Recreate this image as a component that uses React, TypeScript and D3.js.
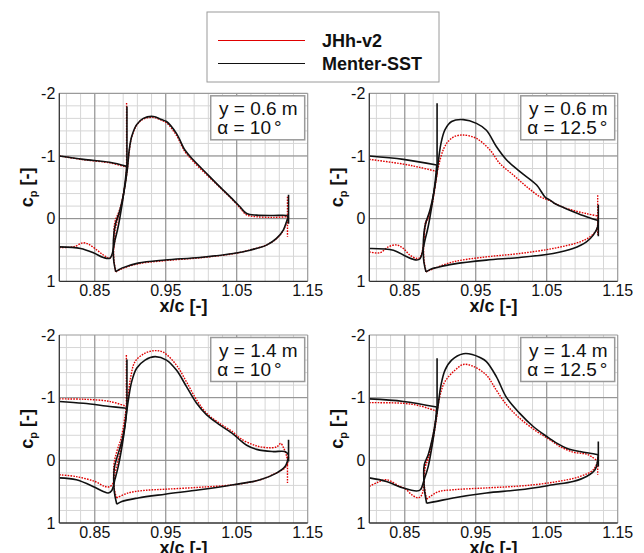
import React from "react";
import * as d3 from "d3";

type Pt = [number, number];
type Series = Pt[][];

// ---- axis ticks ----
const xTicks = [0.85, 0.95, 1.05, 1.15];
const yTicks = [-2, -1, 0, 1];
const xDomain: [number, number] = [0.8, 1.15];
const yDomain: [number, number] = [-2, 1];

// ---- panel annotations ----
const panelSpan = ["0.6", "0.6", "1.4", "1.4"];
const panelAlpha = ["10", "12.5", "10", "12.5"];

// ---- legend ----
const seriesNames = ["JHh-v2", "Menter-SST"];

// ---- Panel 1: y = 0.6 m, alpha = 10 ----
const p1Sst: Series = [
  [[0.80, -1.0], [0.834, -0.946], [0.871, -0.9], [0.895, -0.834]],
  [[0.80, 0.45], [0.83, 0.476], [0.848, 0.545], [0.862, 0.62], [0.8715, 0.63], [0.8785, 0.34], [0.883, 0.125], [0.888, -0.195], [0.8926, -0.567], [0.895, -0.834]],
  [[0.8953, -1.79], [0.8953, -0.83]],
  [[0.8795, 0.845], [0.877, 0.7], [0.876, 0.5], [0.877, 0.23], [0.8795, 0.07], [0.8855, -0.14], [0.8916, -0.46], [0.8958, -0.78], [0.8986, -1.1], [0.902, -1.31], [0.909, -1.5], [0.9184, -1.6], [0.9325, -1.63], [0.944, -1.58], [0.951, -1.55], [0.965, -1.36], [0.977, -1.095], [0.989, -0.935], [1.0076, -0.72], [1.026, -0.51], [1.045, -0.3], [1.0546, -0.19], [1.064, -0.083], [1.078, -0.056], [1.1016, -0.05], [1.12, -0.05], [1.123, -0.03]],
  [[0.8795, 0.845], [0.888, 0.79], [0.911, 0.71], [0.949, 0.66], [0.998, 0.62], [1.045, 0.556], [1.0687, 0.503], [1.092, 0.423], [1.106, 0.316], [1.1156, 0.183], [1.121, 0.023], [1.123, -0.03]],
  [[1.123, -0.38], [1.123, 0.08]],
];
const p1Jhh: Series = [
  [[0.80, -1.0], [0.834, -0.94], [0.871, -0.89], [0.895, -0.82]],
  [[0.80, 0.46], [0.82, 0.45], [0.834, 0.385], [0.843, 0.42], [0.853, 0.5], [0.862, 0.58], [0.8715, 0.63], [0.8775, 0.42], [0.8785, 0.2], [0.882, 0.02], [0.887, -0.17], [0.8926, -0.55], [0.895, -0.82]],
  [[0.8948, -1.845], [0.8948, -0.82]],
  [[0.8795, 0.85], [0.877, 0.66], [0.8765, 0.45], [0.877, 0.2], [0.8785, 0.05], [0.8855, -0.16], [0.8916, -0.47], [0.8958, -0.78], [0.8986, -1.08], [0.902, -1.3], [0.909, -1.49], [0.9184, -1.59], [0.9325, -1.615], [0.944, -1.57], [0.951, -1.53], [0.965, -1.33], [0.977, -1.07], [0.989, -0.91], [1.0076, -0.7], [1.026, -0.5], [1.045, -0.29], [1.0546, -0.17], [1.064, -0.06], [1.078, -0.03], [1.1016, -0.02], [1.12, -0.03]],
  [[0.8795, 0.85], [0.888, 0.8], [0.911, 0.72], [0.949, 0.67], [0.998, 0.625], [1.045, 0.56], [1.0687, 0.5], [1.092, 0.42], [1.106, 0.32], [1.1156, 0.19], [1.121, 0.03]],
  [[1.1215, -0.35], [1.1215, 0.29]],
];

// ---- Panel 2: y = 0.6 m, alpha = 12.5 ----
const p2Sst: Series = [
  [[0.80, -1.0], [0.848, -0.946], [0.895, -0.855]],
  [[0.80, 0.476], [0.834, 0.503], [0.853, 0.61], [0.8668, 0.66], [0.8715, 0.64], [0.8785, 0.34], [0.883, 0.125], [0.888, -0.195], [0.8926, -0.567], [0.895, -0.855]],
  [[0.8955, -1.84], [0.8955, -0.85]],
  [[0.8799, 0.85], [0.877, 0.7], [0.876, 0.5], [0.877, 0.23], [0.8795, 0.07], [0.8855, -0.14], [0.8916, -0.46], [0.8958, -0.78], [0.901, -1.2], [0.9067, -1.42], [0.916, -1.55], [0.9325, -1.58], [0.951, -1.52], [0.965, -1.41], [0.979, -1.15], [0.9935, -0.935], [1.0123, -0.75], [1.0358, -0.536], [1.048, -0.34], [1.054, -0.3], [1.06, -0.25], [1.0687, -0.2], [1.0875, -0.11], [1.106, -0.03], [1.1227, 0.03]],
  [[0.8799, 0.85], [0.888, 0.8], [0.895, 0.78], [0.918, 0.726], [0.965, 0.662], [1.012, 0.62], [1.059, 0.556], [1.087, 0.476], [1.106, 0.37], [1.1156, 0.263], [1.1218, 0.13], [1.1227, 0.03]],
  [[1.1227, -0.22], [1.1227, 0.28]],
];
const p2Jhh: Series = [
  [[0.80, -0.946], [0.848, -0.87], [0.871, -0.818], [0.896, -0.75]],
  [[0.80, 0.53], [0.815, 0.545], [0.8268, 0.45], [0.8385, 0.42], [0.848, 0.476], [0.857, 0.58], [0.867, 0.636], [0.8715, 0.62], [0.8765, 0.4], [0.8785, 0.15], [0.8825, -0.02], [0.888, -0.2], [0.8926, -0.5], [0.896, -0.75]],
  [[0.8799, 0.85], [0.877, 0.65], [0.8765, 0.45], [0.8775, 0.23], [0.8795, 0.05], [0.883, -0.01], [0.889, -0.3], [0.895, -0.7], [0.9, -0.95], [0.905, -1.12], [0.911, -1.23], [0.92, -1.31], [0.9325, -1.334], [0.951, -1.28], [0.97, -1.095], [0.984, -0.88], [1.003, -0.695], [1.0217, -0.51], [1.0405, -0.35], [1.0546, -0.285], [1.0687, -0.2], [1.0875, -0.13], [1.106, -0.08], [1.1227, -0.04]],
  [[0.8799, 0.85], [0.8855, 0.822], [0.918, 0.69], [0.965, 0.61], [1.012, 0.556], [1.059, 0.476], [1.097, 0.37], [1.111, 0.29], [1.12, 0.18], [1.1227, -0.04]],
  [[1.1218, -0.375], [1.1218, 0.26]],
];

// ---- Panel 3: y = 1.4 m, alpha = 10 ----
const p3Sst: Series = [
  [[0.80, -0.94], [0.834, -0.91], [0.871, -0.86], [0.895, -0.83]],
  [[0.80, 0.28], [0.824, 0.31], [0.85, 0.43], [0.862, 0.496], [0.869, 0.52], [0.874, 0.48], [0.8785, 0.3], [0.883, 0.1], [0.888, -0.2], [0.8926, -0.55], [0.895, -0.83]],
  [[0.8953, -1.61], [0.8953, -0.83]],
  [[0.881, 0.7], [0.8775, 0.5], [0.8775, 0.125], [0.881, -0.035], [0.888, -0.3], [0.8926, -0.566], [0.897, -0.94], [0.902, -1.256], [0.909, -1.47], [0.9208, -1.6], [0.9349, -1.655], [0.951, -1.6], [0.965, -1.44], [0.979, -1.18], [0.9935, -0.91], [1.0076, -0.725], [1.026, -0.566], [1.045, -0.42], [1.055, -0.32], [1.064, -0.24], [1.078, -0.175], [1.1, -0.14], [1.118, -0.14], [1.123, -0.09]],
  [[0.881, 0.7], [0.888, 0.656], [0.911, 0.6], [0.949, 0.54], [0.998, 0.47], [1.045, 0.39], [1.083, 0.31], [1.106, 0.204], [1.118, 0.1], [1.123, -0.05]],
  [[1.123, -0.33], [1.123, 0.02]],
];
const p3Jhh: Series = [
  [[0.80, -0.98], [0.834, -0.975], [0.871, -0.94], [0.895, -0.86]],
  [[0.80, 0.23], [0.824, 0.26], [0.85, 0.337], [0.864, 0.416], [0.871, 0.42], [0.876, 0.36], [0.8785, 0.2], [0.883, 0.0], [0.888, -0.25], [0.8926, -0.6], [0.895, -0.86]],
  [[0.8945, -1.68], [0.8945, -0.86]],
  [[0.8805, 0.6], [0.8775, 0.45], [0.877, 0.07], [0.881, -0.14], [0.887, -0.35], [0.8926, -0.7], [0.897, -1.05], [0.901, -1.35], [0.9067, -1.575], [0.9208, -1.71], [0.9349, -1.75], [0.9465, -1.725], [0.965, -1.52], [0.979, -1.256], [0.9935, -0.964], [1.0076, -0.75], [1.026, -0.59], [1.045, -0.45], [1.055, -0.35], [1.078, -0.23], [1.1, -0.2], [1.107, -0.22], [1.112, -0.27], [1.116, -0.2], [1.12, -0.08], [1.1227, 0.04]],
  [[0.8805, 0.6], [0.8973, 0.52], [0.92, 0.48], [0.951, 0.46], [0.998, 0.43], [1.045, 0.39], [1.083, 0.31], [1.106, 0.2], [1.118, 0.12], [1.1227, 0.04]],
  [[1.1215, -0.06], [1.1215, 0.36]],
];

// ---- Panel 4: y = 1.4 m, alpha = 12.5 ----
const p4Sst: Series = [
  [[0.80, -0.98], [0.848, -0.94], [0.895, -0.85]],
  [[0.80, 0.28], [0.824, 0.337], [0.848, 0.443], [0.8668, 0.49], [0.872, 0.47], [0.8775, 0.3], [0.883, 0.1], [0.888, -0.2], [0.8926, -0.55], [0.895, -0.85]],
  [[0.8955, -1.63], [0.8955, -0.85]],
  [[0.8808, 0.686], [0.8775, 0.44], [0.8775, 0.07], [0.883, -0.09], [0.89, -0.41], [0.8958, -0.78], [0.901, -1.2], [0.9067, -1.44], [0.916, -1.6], [0.9325, -1.7], [0.945, -1.69], [0.956, -1.64], [0.965, -1.575], [0.979, -1.336], [0.9935, -1.0], [1.012, -0.75], [1.031, -0.54], [1.05, -0.38], [1.064, -0.274], [1.078, -0.194], [1.097, -0.14], [1.1156, -0.104], [1.1227, -0.088]],
  [[0.8808, 0.686], [0.895, 0.655], [0.918, 0.6], [0.965, 0.52], [1.012, 0.47], [1.059, 0.39], [1.087, 0.337], [1.106, 0.257], [1.118, 0.15], [1.1227, -0.088]],
  [[1.1227, -0.3], [1.1227, 0.1]],
];
const p4Jhh: Series = [
  [[0.80, -0.92], [0.848, -0.91], [0.871, -0.87], [0.896, -0.78]],
  [[0.80, 0.416], [0.812, 0.35], [0.824, 0.31], [0.843, 0.416], [0.8503, 0.45], [0.86, 0.55], [0.869, 0.6], [0.874, 0.55], [0.877, 0.35], [0.879, 0.1], [0.884, -0.05], [0.89, -0.35], [0.8945, -0.65], [0.896, -0.78]],
  [[0.8808, 0.62], [0.8775, 0.4], [0.8785, 0.077], [0.882, -0.02], [0.889, -0.35], [0.895, -0.75], [0.9, -1.05], [0.9067, -1.26], [0.921, -1.44], [0.9325, -1.53], [0.9465, -1.5], [0.965, -1.36], [0.979, -1.12], [0.9935, -0.885], [1.012, -0.67], [1.036, -0.46], [1.0546, -0.327], [1.0687, -0.22], [1.0875, -0.13], [1.1, -0.11], [1.106, -0.1], [1.113, -0.06], [1.1227, 0.02]],
  [[0.8808, 0.62], [0.8855, 0.58], [0.8973, 0.5], [0.918, 0.47], [0.965, 0.44], [1.012, 0.41], [1.059, 0.35], [1.097, 0.257], [1.1156, 0.15], [1.1218, 0.02]],
  [[1.1218, -0.05], [1.1218, 0.23]],
];

const sstSets = [p1Sst, p2Sst, p3Sst, p4Sst];
const jhhSets = [p1Jhh, p2Jhh, p3Jhh, p4Jhh];

// ---- layout ----
const W = 644;
const H = 553;
const PW = 248.4;
const PH = 188;
const origins: [number, number][] = [
  [59.3, 93.3],
  [369.3, 93.3],
  [59.3, 335],
  [369.3, 335],
];
const FONT = "'Liberation Sans', Arial, Helvetica, sans-serif";
const RED = "#e00000";

function Panel({ idx }: { idx: number }) {
  const [ox, oy] = origins[idx];
  const x = d3.scaleLinear().domain(xDomain).range([0, PW]);
  const y = d3.scaleLinear().domain(yDomain).range([0, PH]);
  const line = d3
    .line<Pt>()
    .x((d) => x(d[0]))
    .y((d) => y(d[1]))
    .curve(d3.curveCatmullRom.alpha(0.5));
  const xMinor = d3.range(0, 17).map((i) => 0.81 + i * 0.02);
  const yMinor = d3.range(1, 15).map((i) => -2 + i * 0.2);
  const clipId = `clip-${idx}`;
  const boxW = 94;
  const boxH = 44;
  const bx = PW - 3 - boxW;
  const by = 2.5;
  return (
    <g transform={`translate(${ox},${oy})`}>
      <defs>
        <clipPath id={clipId}>
          <rect x={0} y={0} width={PW} height={PH} />
        </clipPath>
      </defs>
      <rect x={0} y={0} width={PW} height={PH} fill="#fff" />
      {xMinor.map((v, i) => (
        <line key={"xm" + i} x1={x(v)} x2={x(v)} y1={0} y2={PH} stroke="#d6d6d6" strokeWidth={1} />
      ))}
      {yMinor.map((v, i) => (
        <line key={"ym" + i} x1={0} x2={PW} y1={y(v)} y2={y(v)} stroke="#d6d6d6" strokeWidth={1} />
      ))}
      {xTicks.slice(0, 3).map((v, i) => (
        <line key={"xM" + i} x1={x(v)} x2={x(v)} y1={0} y2={PH} stroke="#8a8a8a" strokeWidth={1} />
      ))}
      {yTicks.slice(1, 3).map((v, i) => (
        <line key={"yM" + i} x1={0} x2={PW} y1={y(v)} y2={y(v)} stroke="#8a8a8a" strokeWidth={1} />
      ))}
      <g clipPath={`url(#${clipId})`}>
        {jhhSets[idx].map((seg, i) => (
          <path key={"r" + i} d={line(seg) || ""} fill="none" stroke={RED} strokeWidth={1.4} strokeDasharray="1.6 1.2" />
        ))}
        {sstSets[idx].map((seg, i) => (
          <path key={"k" + i} d={line(seg) || ""} fill="none" stroke="#111" strokeWidth={1.6} />
        ))}
      </g>
      {/* frame */}
      <line x1={0} x2={PW} y1={0} y2={0} stroke="#9a9a9a" strokeWidth={1.2} />
      <line x1={PW} x2={PW} y1={0} y2={PH} stroke="#9a9a9a" strokeWidth={1.2} />
      <line x1={0} x2={0} y1={0} y2={PH} stroke="#333" strokeWidth={1.3} />
      <line x1={0} x2={PW} y1={PH} y2={PH} stroke="#333" strokeWidth={1.3} />
      {/* tick labels */}
      {yTicks.map((v) => (
        <text key={"yt" + v} x={-4} y={y(v)} dy="0.36em" textAnchor="end" fontFamily={FONT} fontSize={16} fill="#111">
          {String(v)}
        </text>
      ))}
      {xTicks.map((v) => (
        <text key={"xt" + v} x={x(v)} y={PH + 14.5} textAnchor="middle" fontFamily={FONT} fontSize={16} fill="#111">
          {v.toFixed(2)}
        </text>
      ))}
      {/* axis titles */}
      <text x={PW / 2} y={PH + 31} textAnchor="middle" fontFamily={FONT} fontSize={18} fontWeight="bold" fill="#111">
        x/c [-]
      </text>
      <text
        transform={`translate(${-26},${PH / 2}) rotate(-90)`}
        textAnchor="middle"
        fontFamily={FONT}
        fontSize={18}
        fontWeight="bold"
        fill="#111"
      >
        c<tspan fontSize={11} dy={4}>p</tspan>
        <tspan dy={-4}> [-]</tspan>
      </text>
      {/* annotation */}
      <rect x={bx} y={by} width={boxW} height={boxH} fill="#fff" stroke="#9a9a9a" strokeWidth={1.5} />
      <text x={bx + 8.3} y={by + 19.5} fontFamily={FONT} fontSize={19} fill="#111">
        {`y = ${panelSpan[idx]} m`}
      </text>
      <text x={bx + 6.5} y={by + 38.5} fontFamily={FONT} fontSize={19} fill="#111">
        {`α = ${panelAlpha[idx]}`}
        <tspan dx={3}>°</tspan>
      </text>
    </g>
  );
}

export default function App() {
  return (
    <svg width={W} height={H} style={{ display: "block", position: "absolute", left: 0, top: 0, background: "#fff" }}>
      <rect x={0} y={0} width={W} height={H} fill="#fff" />
      {/* legend */}
      <rect x={207} y={12} width={232} height={70} fill="#fff" stroke="#9a9a9a" strokeWidth={1} />
      <line x1={218} x2={305} y1={40.5} y2={40.5} stroke={RED} strokeWidth={1.2} />
      <line x1={218} x2={305} y1={63.5} y2={63.5} stroke="#111" strokeWidth={1.2} />
      <text x={322} y={47} fontFamily={FONT} fontSize={18} fontWeight="bold" fill="#111">
        {seriesNames[0]}
      </text>
      <text x={322} y={70} fontFamily={FONT} fontSize={18} fontWeight="bold" fill="#111">
        {seriesNames[1]}
      </text>
      {[0, 1, 2, 3].map((i) => (
        <Panel key={i} idx={i} />
      ))}
    </svg>
  );
}
